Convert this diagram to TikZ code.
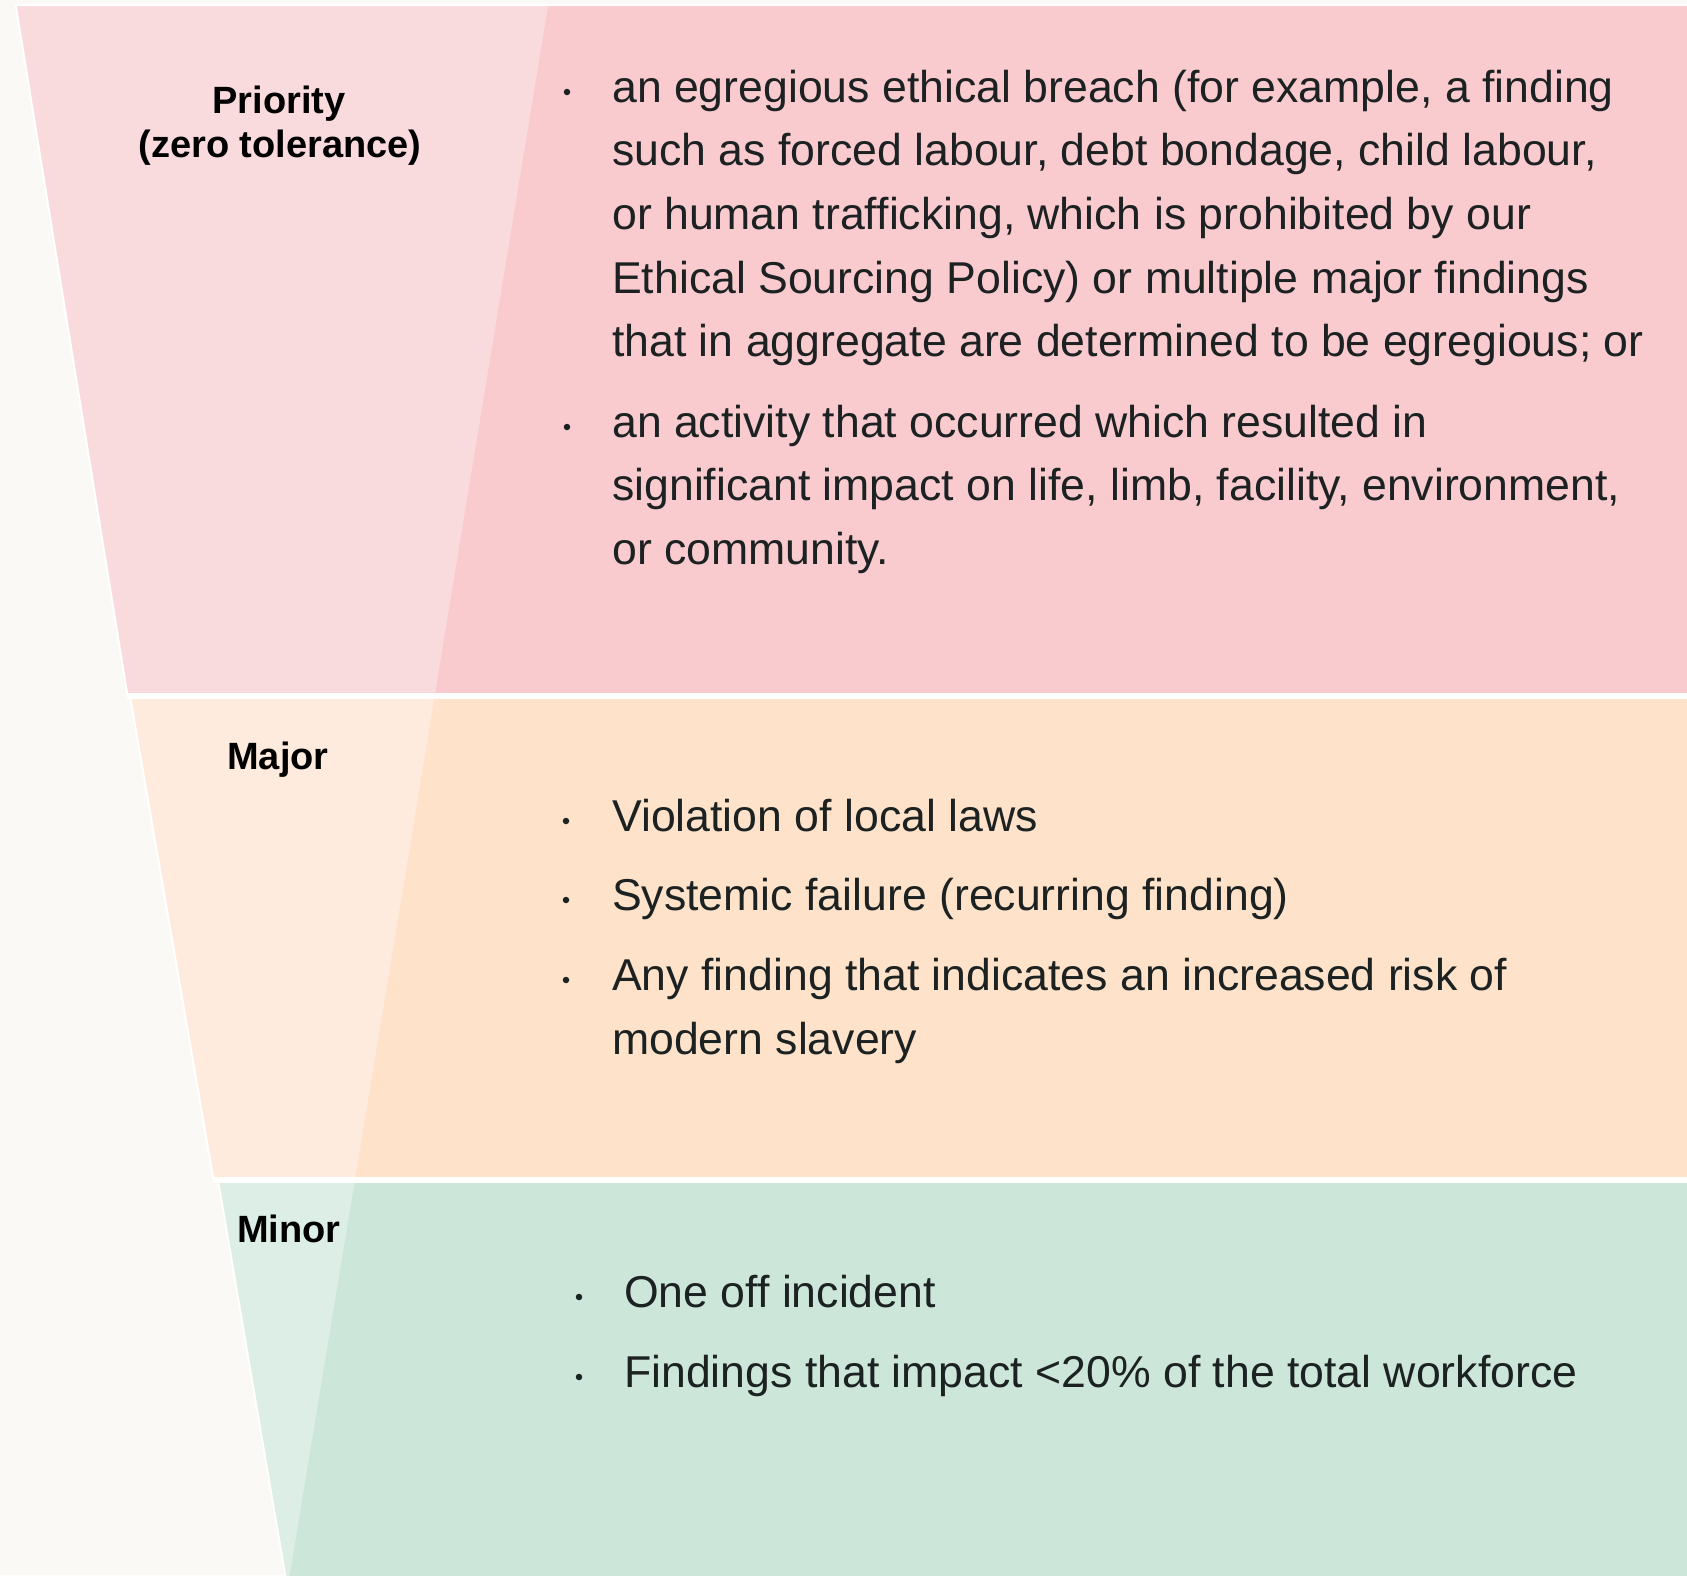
\documentclass[tikz,border=0pt]{standalone}
\usepackage{fontspec}
\setmainfont{Liberation Sans}
\definecolor{bg}{HTML}{FAF9F5}
\definecolor{plight}{HTML}{F9DBDE}
\definecolor{pdark}{HTML}{F9CACE}
\definecolor{mlight}{HTML}{FEEBDD}
\definecolor{mdark}{HTML}{FEE2C9}
\definecolor{nlight}{HTML}{DCEEE5}
\definecolor{ndark}{HTML}{CCE7DA}
\definecolor{ink}{HTML}{1C2122}
\begin{document}
\begin{tikzpicture}[x=1pt,y=-1pt,
  body/.style={anchor=base west, inner sep=0pt, text=ink, font=\fontsize{44.6}{63}\selectfont},
  tier/.style={anchor=base, inner sep=0pt, text=black, font=\bfseries\fontsize{38}{44}\selectfont},
  bdot/.style={circle, fill=ink, inner sep=0pt, minimum size=6.5pt},
  edge/.style={draw=white, line width=2pt},
  gapline/.style={draw=white, line width=6pt}]
\useasboundingbox (0,0) rectangle (1687,1575);
\fill[bg] (0,0) rectangle (1687,1575);

% priority band
\fill[plight] (15.7,5) -- (1700,5) -- (1700,696) -- (127.5,696) -- cycle;
\fill[pdark] (548.3,5) -- (1700,5) -- (1700,696) -- (434.7,696) -- cycle;
% major band
\fill[mlight] (130,696) -- (1700,696) -- (1700,1180) -- (213.5,1180) -- cycle;
\fill[mdark] (434.7,696) -- (1700,696) -- (1700,1180) -- (355,1180) -- cycle;
% minor band
\fill[nlight] (218,1180) -- (1700,1180) -- (1700,1580) -- (286,1580) -- cycle;
\fill[ndark] (355,1180) -- (1700,1180) -- (1700,1580) -- (289,1580) -- cycle;

% white rims and separators
\draw[edge] (1700,5) -- (15.7,5) -- (127.5,696);
\draw[edge] (130,696) -- (213.5,1180);
\draw[edge] (218,1180) -- (286,1580);
\draw[gapline] (127,696) -- (1700,696);
\draw[gapline] (213,1180) -- (1700,1180);

% tier labels
\node[tier] (lp1) at (279,113) {Priority};
\node[tier] (lp2) at (280,157) {(zero tolerance)};
\node[tier] (lm) at (278,769) {Major};
\node[tier, anchor=base west] (ln) at (237,1242) {Minor};

% priority criteria
\node[bdot] (dp1) at (567,92) {};
\node[body] (p1a) at (612,102) {an egregious ethical breach (for example, a finding};
\node[body] (p1b) at (612,165.7) {such as forced labour, debt bondage, child labour,};
\node[body] (p1c) at (612,229.4) {or human trafficking, which is prohibited by our};
\node[body] (p1d) at (612,293.1) {Ethical Sourcing Policy) or multiple major findings};
\node[body] (p1e) at (612,356.8) {that in aggregate are determined to be egregious; or};
\node[bdot] (dp2) at (567,427) {};
\node[body] (p2a) at (612,437) {an activity that occurred which resulted in};
\node[body] (p2b) at (612,500.7) {significant impact on life, limb, facility, environment,};
\node[body] (p2c) at (612,564.4) {or community.};

% major criteria
\node[bdot] (dm1) at (566,821) {};
\node[body] (m1) at (612,831) {Violation of local laws};
\node[bdot] (dm2) at (566,900) {};
\node[body] (m2) at (612,910) {Systemic failure (recurring finding)};
\node[bdot] (dm3) at (566,980) {};
\node[body] (m3a) at (612,990) {Any finding that indicates an increased risk of};
\node[body] (m3b) at (612,1054) {modern slavery};

% minor criteria
\node[bdot] (dn1) at (579,1297) {};
\node[body] (n1) at (624,1307) {One off incident};
\node[bdot] (dn2) at (579,1377) {};
\node[body] (n2) at (624,1387) {Findings that impact <20\% of the total workforce};
\end{tikzpicture}
\end{document}
